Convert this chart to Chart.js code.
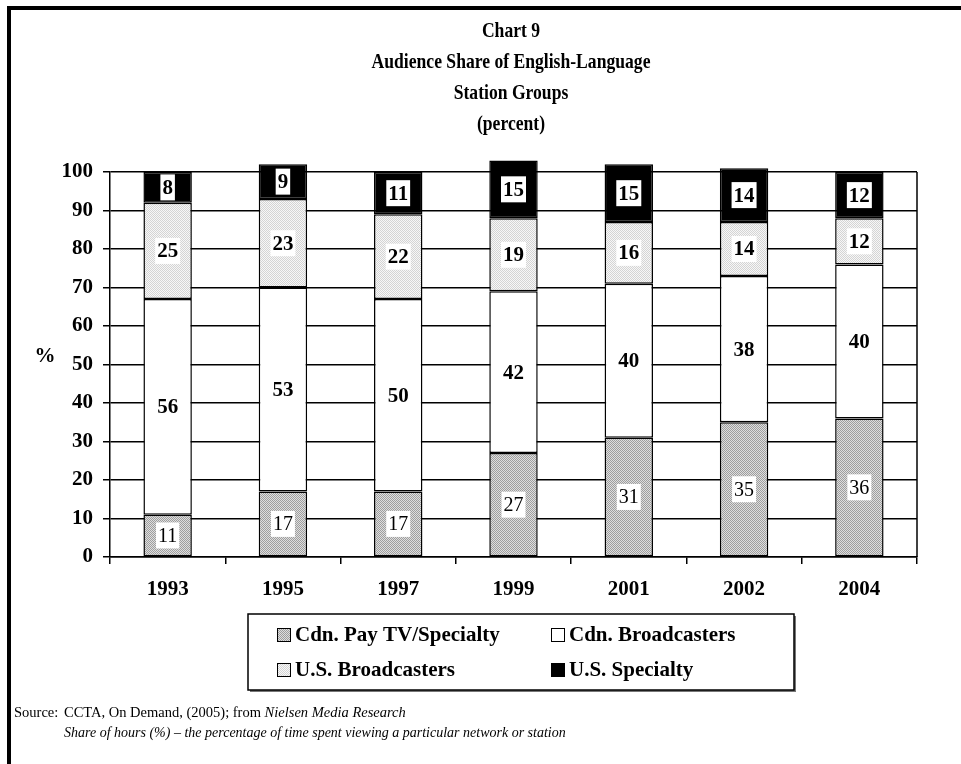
<!DOCTYPE html>
<html>
<head>
<meta charset="utf-8">
<script src="https://cdn.jsdelivr.net/npm/chart.js@4.4.1/dist/chart.umd.min.js"></script>
<style>
  html, body { margin: 0; padding: 0; background: #fff; }
  #wrap { width: 961px; height: 764px; }
</style>
</head>
<body>
<div id="wrap"><canvas id="chart9" width="961" height="764"></canvas></div>
<script>
// data (percent)
const years = ['1993', '1995', '1997', '1999', '2001', '2002', '2004'];
const cdnPayTv = [11, 17, 17, 27, 31, 35, 36];
const cdnBroadcasters = [56, 53, 50, 42, 40, 38, 40];
const usBroadcasters = [25, 23, 22, 19, 16, 14, 12];
const usSpecialty = [8, 9, 11, 15, 15, 14, 12];
const yTicks = [0, 10, 20, 30, 40, 50, 60, 70, 80, 90, 100];

const titleLines = ['Chart 9', 'Audience Share of English-Language', 'Station Groups', '(percent)'];
const FONT = "'Liberation Serif', 'Times New Roman', Times, serif";

// small checker patterns like the dotted fills
function makePattern(c1, c2) {
    const c = document.createElement('canvas');
    c.width = 2; c.height = 2;
    const g = c.getContext('2d');
    g.fillStyle = c2; g.fillRect(0, 0, 2, 2);
    g.fillStyle = c1; g.fillRect(0, 0, 1, 1); g.fillRect(1, 1, 1, 1);
    return g.createPattern(c, 'repeat');
}
const darkDots = makePattern('#9e9e9e', '#dedede');
const lightDots = makePattern('#d4d4d4', '#f7f7f7');

function ds(label, data, fill, boldLabel) {
    return {
        label: label,
        data: data,
        backgroundColor: fill,
        borderColor: '#000',
        borderWidth: 1.5,
        borderSkipped: false,
        barPercentage: 0.42,
        categoryPercentage: 1,
        clip: false,
        boldLabel: boldLabel
    };
}

// numbers in white boxes in the middle of each segment
const segmentLabels = {
    id: 'segmentLabels',
    afterDatasetsDraw(chart) {
        const ctx = chart.ctx;
        ctx.save();
        ctx.textAlign = 'center';
        ctx.textBaseline = 'middle';
        chart.data.datasets.forEach((d, i) => {
            const meta = chart.getDatasetMeta(i);
            meta.data.forEach((bar, j) => {
                const txt = String(d.data[j]);
                const cy = (bar.y + bar.base) / 2;
                ctx.font = d.boldLabel ? 'bold 21px ' + FONT : '20px ' + FONT;
                const w = ctx.measureText(txt).width + 4;
                ctx.fillStyle = '#fff';
                ctx.fillRect(bar.x - w / 2, cy - 13, w, 26);
                ctx.fillStyle = '#000';
                ctx.fillText(txt, bar.x, cy + 1);
            });
        });
        ctx.restore();
    }
};

// title, "%" label, right border, legend box, source note and page frame
const decorations = {
    id: 'decorations',
    beforeDraw(chart) {
        const ctx = chart.ctx;
        ctx.save();
        ctx.fillStyle = '#fff';
        ctx.fillRect(0, 0, chart.width, chart.height);
        ctx.restore();
    },
    afterDraw(chart) {
        const ctx = chart.ctx;
        const a = chart.chartArea;
        ctx.save();

        // title (the original face is a narrow bold serif)
        ctx.fillStyle = '#000';
        ctx.textAlign = 'center';
        ctx.textBaseline = 'middle';
        ctx.font = 'bold 22px ' + FONT;
        titleLines.forEach((t, i) => {
            ctx.save();
            ctx.translate(511, 31 + i * 31);
            ctx.scale(0.8, 1);
            ctx.fillText(t, 0, 0);
            ctx.restore();
        });

        // axis title
        ctx.font = 'bold 21px ' + FONT;
        ctx.fillText('%', 45, 357);

        // right border of the plot
        ctx.strokeStyle = '#000';
        ctx.lineWidth = 1.5;
        ctx.beginPath();
        ctx.moveTo(a.right, a.top);
        ctx.lineTo(a.right, a.bottom);
        ctx.stroke();

        // legend
        ctx.fillStyle = '#777';
        ctx.fillRect(250, 616, 546, 76);
        ctx.fillStyle = '#fff';
        ctx.fillRect(248, 614, 546, 76);
        ctx.strokeStyle = '#000';
        ctx.lineWidth = 1.5;
        ctx.strokeRect(248, 614, 546, 76);
        const spots = [[277, 635], [551, 635], [277, 670], [551, 670]];
        ctx.textAlign = 'left';
        ctx.font = 'bold 21px ' + FONT;
        chart.data.datasets.forEach((d, i) => {
            const [x, y] = spots[i];
            ctx.fillStyle = d.backgroundColor;
            ctx.fillRect(x, y - 7, 14, 14);
            ctx.strokeStyle = '#000';
            ctx.lineWidth = 1;
            ctx.strokeRect(x + 0.5, y - 6.5, 13, 13);
            ctx.fillStyle = '#000';
            ctx.fillText(d.label, x + 18, y + 1);
        });

        // source note
        ctx.textBaseline = 'alphabetic';
        ctx.font = '14.5px ' + FONT;
        ctx.fillText('Source:', 14, 717);
        const s1 = 'CCTA, On Demand, (2005); from ';
        ctx.fillText(s1, 64, 717);
        const w1 = ctx.measureText(s1).width;
        ctx.font = 'italic 14.5px ' + FONT;
        ctx.fillText('Nielsen Media Research', 64 + w1, 717);
        ctx.font = 'italic 14px ' + FONT;
        ctx.fillText('Share of hours (%) \u2013 the percentage of time spent viewing a particular network or station', 64, 737);

        // page frame (top and left rules)
        ctx.fillStyle = '#000';
        ctx.fillRect(7, 6, 954, 4);
        ctx.fillRect(7, 6, 4, 758);
        ctx.restore();
    }
};

new Chart(document.getElementById('chart9'), {
    type: 'bar',
    data: {
        labels: years,
        datasets: [
            ds('Cdn. Pay TV/Specialty', cdnPayTv, darkDots, false),
            ds('Cdn. Broadcasters', cdnBroadcasters, '#ffffff', true),
            ds('U.S. Broadcasters', usBroadcasters, lightDots, true),
            ds('U.S. Specialty', usSpecialty, '#000000', true)
        ]
    },
    options: {
        responsive: false,
        animation: false,
        layout: { padding: { left: 0, top: 172, right: 44, bottom: 0 } },
        plugins: {
            legend: { display: false },
            title: { display: false },
            tooltip: { enabled: false }
        },
        scales: {
            x: {
                stacked: true,
                afterFit(s) { s.height = 764 - 557; },
                grid: { offset: true, drawOnChartArea: false, color: '#000', lineWidth: 1.5, tickLength: 7 },
                border: { color: '#000', width: 1.5 },
                ticks: { color: '#000', font: { family: FONT, size: 21, weight: 'bold' }, padding: 13 }
            },
            y: {
                stacked: true,
                min: 0,
                max: 100,
                afterFit(s) { s.width = 110; },
                afterBuildTicks(s) { s.ticks = yTicks.map(v => ({ value: v })); },
                grid: { color: '#000', lineWidth: 1.5, tickLength: 7 },
                border: { color: '#000', width: 1.5 },
                ticks: { color: '#000', font: { family: FONT, size: 21, weight: 'bold' }, padding: 10 }
            }
        }
    },
    plugins: [segmentLabels, decorations]
});
</script>
</body>
</html>
